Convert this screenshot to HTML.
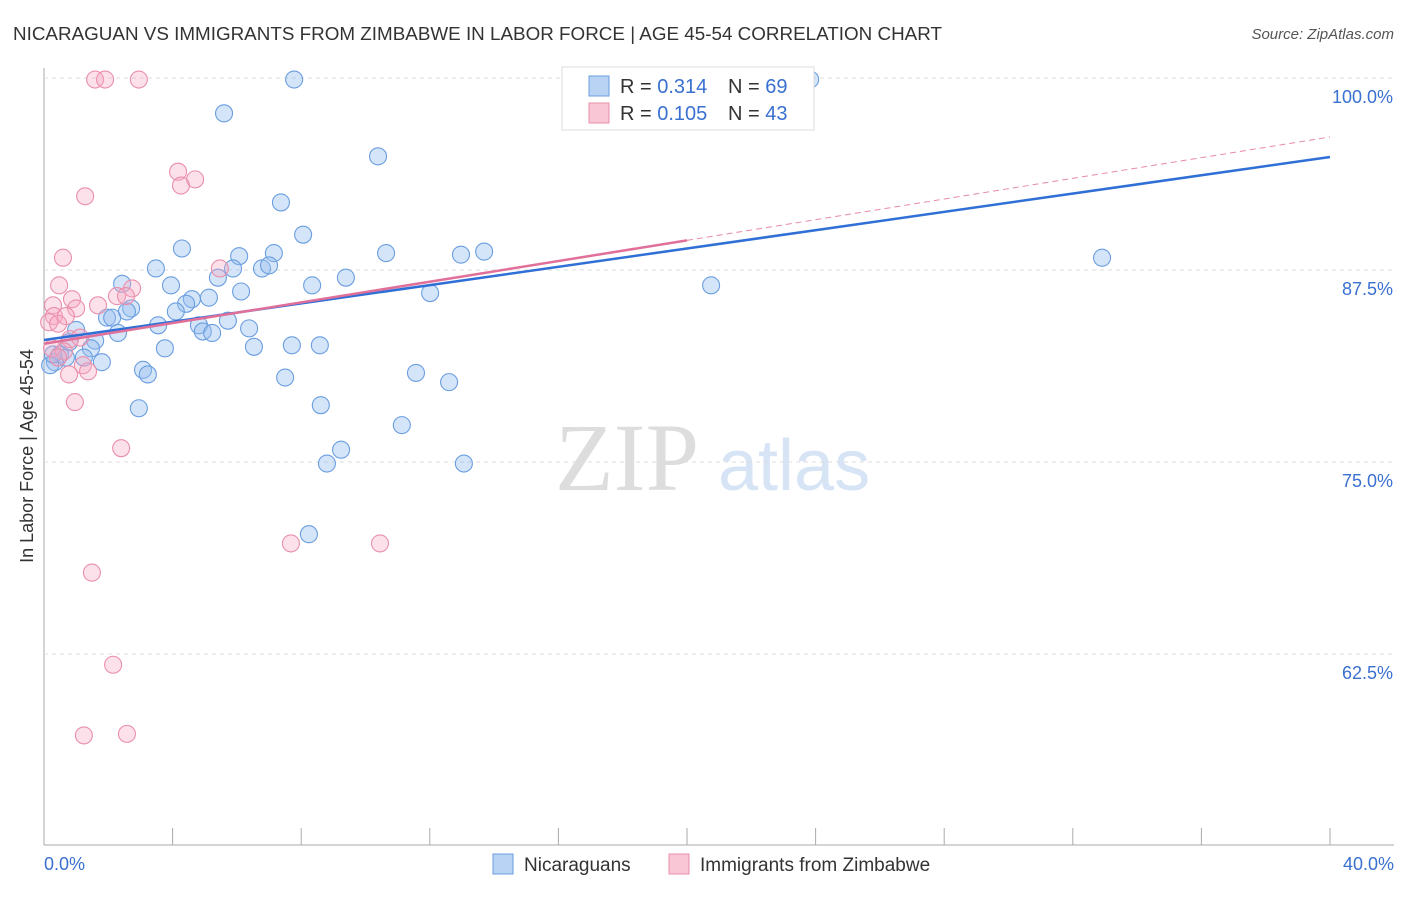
<!DOCTYPE html>
<html><head><meta charset="utf-8"><style>
body{margin:0;background:#fff;font-family:"Liberation Sans",sans-serif}
</style></head><body>
<svg id="c" width="1406" height="892" xmlns="http://www.w3.org/2000/svg" font-family="Liberation Sans, sans-serif">
<text x="13" y="40" font-size="18" fill="#333" textLength="929" lengthAdjust="spacingAndGlyphs">NICARAGUAN VS IMMIGRANTS FROM ZIMBABWE IN LABOR FORCE | AGE 45-54 CORRELATION CHART</text>
<text x="1394" y="39" font-size="15" fill="#555" text-anchor="end" font-style="italic">Source: ZipAtlas.com</text>
<text transform="translate(33,456) rotate(-90)" font-size="18" fill="#333" text-anchor="middle">In Labor Force | Age 45-54</text>
<text x="555" y="490" font-size="96" fill="#ddd" font-family="Liberation Serif, serif">ZIP</text>
<text x="718" y="490" font-size="72" fill="#d6e4f5">atlas</text>
<g id="grid"></g><g id="pts"></g><g id="lines"></g>
<g>
<rect x="562" y="67" width="252" height="63" fill="#fff" stroke="#ddd"/>
<rect x="589" y="76" width="20" height="20" fill="#b9d3f5" stroke="#6a9ee0"/>
<rect x="589" y="103" width="20" height="20" fill="#f9c6d5" stroke="#ea8fab"/>
<text x="620" y="93" font-size="20" fill="#333">R = <tspan fill="#3a70d0">0.314</tspan></text>
<text x="728" y="93" font-size="20" fill="#333">N = <tspan fill="#3a70d0">69</tspan></text>
<text x="620" y="120" font-size="20" fill="#333">R = <tspan fill="#3a70d0">0.105</tspan></text>
<text x="728" y="120" font-size="20" fill="#333">N = <tspan fill="#3a70d0">43</tspan></text>
</g>
<g>
<rect x="493" y="854" width="20" height="20" fill="#b9d3f5" stroke="#6a9ee0"/>
<text x="524" y="871" font-size="19" fill="#333">Nicaraguans</text>
<rect x="669" y="854" width="20" height="20" fill="#f9c6d5" stroke="#ea8fab"/>
<text x="700" y="871" font-size="19" fill="#333">Immigrants from Zimbabwe</text>
</g>
</svg>
<script>
const blueX=[7.78,5.6,10.39,7.37,8.06,4.29,6.07,7.15,10.64,12.97,13.69,3.48,5.88,6.78,7.0,5.41,9.39,2.43,3.95,6.13,8.34,12.01,20.75,32.91,23.83,5.13,4.6,4.42,2.71,2.58,4.1,1.96,2.12,5.72,3.55,4.82,6.38,2.3,4.94,5.23,1.0,1.59,0.78,3.76,6.53,7.71,8.58,1.46,0.5,0.68,0.34,1.8,1.24,3.08,3.23,7.5,11.57,12.6,2.95,8.61,11.13,9.24,8.8,13.06,8.24,0.19,0.28];
const blueY=[99.9,97.7,94.9,91.9,89.8,88.9,88.4,88.6,88.6,88.5,88.7,87.6,87.6,87.6,87.8,87.0,87.0,86.6,86.5,86.1,86.5,86.0,86.5,88.3,99.9,85.7,85.6,85.3,85.0,84.8,84.8,84.4,84.4,84.2,83.9,83.9,83.7,83.4,83.5,83.4,83.6,82.9,82.8,82.4,82.5,82.6,82.6,82.4,82.0,81.8,81.5,81.5,81.8,81.0,80.7,80.5,80.8,80.2,78.5,78.7,77.4,75.8,74.9,74.9,70.3,81.3,82.0];
const pinkX=[1.59,1.9,2.95,16.58,4.17,4.7,4.26,1.28,0.59,5.47,0.47,2.74,2.27,0.87,0.28,1.68,1.0,0.31,0.68,0.16,0.44,0.81,1.12,0.25,0.62,0.44,1.21,1.37,0.78,0.96,2.4,7.68,10.45,1.49,2.15,1.24,2.58,2.55];
const pinkY=[99.9,99.9,99.9,99.9,93.9,93.4,93.0,92.3,88.3,87.6,86.5,86.3,85.8,85.6,85.2,85.2,85.0,84.5,84.5,84.1,84.0,83.0,83.1,82.4,82.2,81.8,81.3,80.9,80.7,78.9,75.9,69.7,69.7,67.8,61.8,57.2,57.3,85.8];
const yTicks=[100,87.5,75,62.5];
const yTickLabels=["100.0%","87.5%","75.0%","62.5%"];
const blueLine=[82.94,94.86];
const pinkLine=[82.7,96.16];
const NS="http://www.w3.org/2000/svg";
const sx=v=>44+v/40*1286, sy=v=>78+(100-v)*15.36;
function mk(p,t,a){const e=document.createElementNS(NS,t);for(const k in a)e.setAttribute(k,a[k]);p.appendChild(e);return e;}
const g=document.getElementById('grid');
let ax=mk(g,'line',{x1:44,y1:68,x2:44,y2:845,stroke:'#aaa'});

let bx=mk(g,'line',{x1:44,y1:845,x2:1394,y2:845,stroke:'#aaa'});

for(let i=0;i<=10;i++){const x=sx(i*4);const t=mk(g,'line',{x1:x,y1:828,x2:x,y2:845,stroke:'#aaa'});
}
yTicks.forEach((v,i)=>{const y=sy(v);const l=mk(g,'line',{x1:44,y1:y,x2:1394,y2:y,stroke:'#ddd','stroke-dasharray':'4,4'});

const t=mk(g,'text',{x:1393,y:y+25,'font-size':18,fill:'#3a70d0','text-anchor':'end'});t.textContent=yTickLabels[i];
});
const x0=mk(g,'text',{x:44,y:870,'font-size':18,fill:'#3a70d0'});x0.textContent='0.0%';

const x1=mk(g,'text',{x:1394,y:870,'font-size':18,fill:'#3a70d0','text-anchor':'end'});x1.textContent='40.0%';

const P=document.getElementById('pts');
blueX.forEach((v,i)=>{const c=mk(P,'circle',{cx:sx(v),cy:sy(blueY[i]),r:8.5,fill:'rgba(150,190,240,0.4)',stroke:'#6a9ee0','stroke-width':1.1});
});
pinkX.forEach((v,i)=>{const c=mk(P,'circle',{cx:sx(v),cy:sy(pinkY[i]),r:8.5,fill:'rgba(245,170,195,0.35)',stroke:'#ea8fab','stroke-width':1.1});
});
const L=document.getElementById('lines');
const pl=v=>pinkLine[0]+(pinkLine[1]-pinkLine[0])*v/40;
let d=mk(L,'line',{x1:sx(20),y1:sy(pl(20)),x2:sx(40),y2:sy(pl(40)),stroke:'#e88aa8','stroke-width':1,'stroke-dasharray':'6,4'});

let b=mk(L,'line',{x1:sx(0),y1:sy(blueLine[0]),x2:sx(40),y2:sy(blueLine[1]),stroke:'#2f6fd6','stroke-width':2.5});

let p=mk(L,'line',{x1:sx(0),y1:sy(pl(0)),x2:sx(20),y2:sy(pl(20)),stroke:'#e0709a','stroke-width':2.5});

</script>
</body></html>
